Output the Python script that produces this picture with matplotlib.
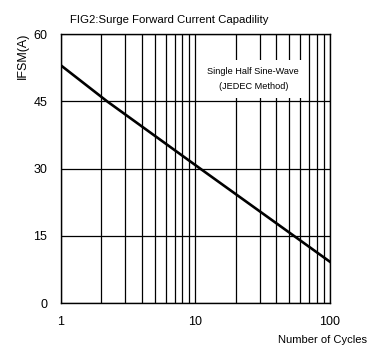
import numpy as np
import matplotlib
matplotlib.use("Agg")
from matplotlib import pyplot as plt
from matplotlib.ticker import FixedLocator, NullFormatter, LogLocator

plt.rcParams['font.family'] = ['Liberation Sans', 'DejaVu Sans']

# curve
cycles = [1, 2.2, 11.3, 55, 100]
ifsm = [53.0, 45.0, 29.6, 14.8, 9.2]

y_ticks = [0, 15, 30, 45, 60]
x_ticks = [1, 10, 100]
x_labels = ["1", "10", "100"]

fig = plt.figure(figsize=(3.81, 3.53), dpi=100)
ax = fig.add_axes([0.160, 0.1416, 0.706, 0.762])

ax.set_xscale("log")
ax.set_xlim(1, 100)
ax.set_ylim(0, 60)

ax.xaxis.set_major_locator(FixedLocator(x_ticks))
ax.set_xticklabels(x_labels)
ax.xaxis.set_minor_locator(LogLocator(base=10, subs=np.arange(2, 10)))
ax.xaxis.set_minor_formatter(NullFormatter())
ax.set_yticks(y_ticks)

ax.grid(True, which="both", axis="x", color="black", lw=0.9)
ax.grid(True, which="major", axis="y", color="black", lw=0.9)
ax.tick_params(axis="both", which="both", length=0, labelsize=9)
ax.tick_params(axis="y", pad=10)
ax.tick_params(axis="x", pad=9)
for s in ax.spines.values():
    s.set_linewidth(1.0)

ax.plot(cycles, ifsm, color="black", lw=1.9, zorder=3)

ax.text(0.715, 0.833, "Single Half Sine-Wave\n(JEDEC Method)", transform=ax.transAxes,
        ha="center", va="center", fontsize=6.6, linespacing=1.75,
        bbox=dict(facecolor="white", edgecolor="none", pad=5), zorder=4)

fig.text(70 / 381, 1 - 20 / 353, "FIG2:Surge Forward Current Capadility",
         ha="left", va="center", fontsize=8.2)
fig.text(23 / 381, 1 - 56 / 353, "IFSM(A)", rotation=90,
         ha="center", va="center", fontsize=9)
fig.text(323 / 381, 1 - 340 / 353, "Number of Cycles",
         ha="center", va="center", fontsize=8)

fig.savefig("out.png", dpi=100)
